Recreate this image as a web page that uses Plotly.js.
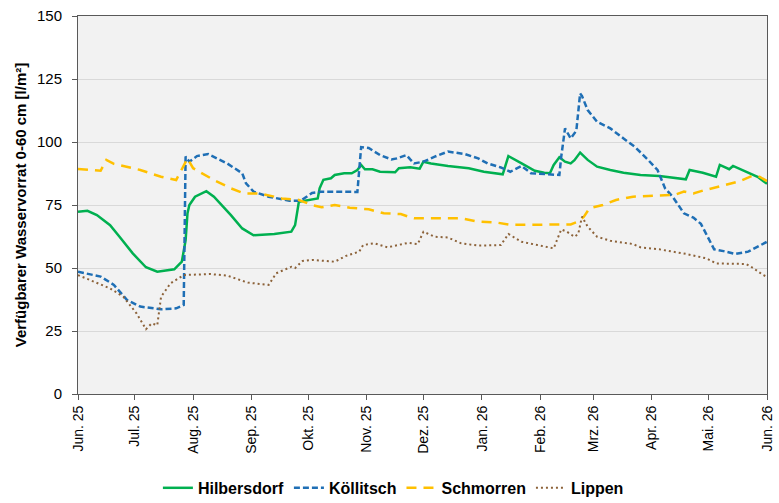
<!DOCTYPE html>
<html>
<head>
<meta charset="utf-8">
<script src="https://cdn.plot.ly/plotly-3.0.1.min.js"></script>
<style>html,body{margin:0;padding:0;background:#fff;}#chart{width:779px;height:503px;}</style>
</head>
<body>
<div id="chart"></div>
<script>
const monthTicks = ['2025-06-01','2025-07-01','2025-08-01','2025-09-01','2025-10-01','2025-11-01','2025-12-01','2026-01-01','2026-02-01','2026-03-01','2026-04-01','2026-05-01','2026-06-01'];
const monthLabels = ['Jun. 25','Jul. 25','Aug. 25','Sep. 25','Okt. 25','Nov. 25','Dez. 25','Jan. 26','Feb. 26','Mrz. 26','Apr. 26','Mai. 26','Jun. 26'];

const hilbersdorfDates = ['2025-06-01','2025-06-06','2025-06-11','2025-06-18','2025-06-23','2025-06-30','2025-07-07','2025-07-13','2025-07-22','2025-07-26','2025-07-28','2025-07-29','2025-07-30','2025-08-02','2025-08-08','2025-08-12','2025-08-21','2025-08-27','2025-09-02','2025-09-13','2025-09-22','2025-09-24','2025-09-26','2025-10-02','2025-10-06','2025-10-07','2025-10-09','2025-10-13','2025-10-15','2025-10-20','2025-10-24','2025-10-27','2025-10-29','2025-10-31','2025-11-04','2025-11-08','2025-11-14','2025-11-16','2025-11-18','2025-11-24','2025-11-29','2025-12-01','2025-12-05','2025-12-14','2025-12-25','2026-01-02','2026-01-12','2026-01-15','2026-01-22','2026-01-29','2026-02-03','2026-02-06','2026-02-08','2026-02-11','2026-02-14','2026-02-17','2026-02-19','2026-02-22','2026-02-26','2026-03-03','2026-03-10','2026-03-17','2026-03-26','2026-04-05','2026-04-19','2026-04-21','2026-04-28','2026-05-05','2026-05-07','2026-05-12','2026-05-14','2026-05-21','2026-05-27','2026-06-01'];
const hilbersdorf = [72.3,72.7,71,67,62.4,55.8,50.3,48.5,49.5,52.5,61,71.7,75,78.3,80.5,78.3,71,65.7,63,63.5,64.4,67,76.3,77,77.6,81.6,85,85.6,86.9,87.6,87.6,88.9,90.9,89.2,89.2,88.2,88.2,88,89.6,90,89.4,92.2,91.5,90.5,89.6,88.2,87.2,94.4,91.5,88.6,87.8,87.6,90.9,93.9,92.2,91.5,92.8,95.8,92.9,90.2,88.9,87.8,86.9,86.5,85.2,88.9,87.8,86.2,90.9,89.2,90.5,88.2,86.2,83.4];

const koellitschDates = ['2025-06-01','2025-06-13','2025-06-20','2025-06-27','2025-07-04','2025-07-15','2025-07-23','2025-07-27','2025-07-28','2025-07-30','2025-08-03','2025-08-09','2025-08-19','2025-08-27','2025-08-29','2025-09-02','2025-09-10','2025-09-21','2025-09-27','2025-10-03','2025-10-08','2025-10-27','2025-10-29','2025-11-02','2025-11-08','2025-11-14','2025-11-17','2025-11-22','2025-11-24','2025-11-26','2025-12-01','2025-12-07','2025-12-14','2025-12-23','2025-12-30','2026-01-04','2026-01-11','2026-01-16','2026-01-22','2026-01-27','2026-02-11','2026-02-12','2026-02-14','2026-02-17','2026-02-20','2026-02-22','2026-02-23','2026-02-26','2026-03-03','2026-03-10','2026-03-17','2026-03-23','2026-03-30','2026-04-04','2026-04-08','2026-04-12','2026-04-18','2026-04-23','2026-04-27','2026-04-30','2026-05-04','2026-05-09','2026-05-15','2026-05-22','2026-05-27','2026-06-01'];
const koellitsch = [48.5,46.6,43.3,37.3,34.7,33.6,34,35.3,94.2,92.2,94.4,95.2,91.5,87.6,83.6,80.3,78.3,76.7,76.7,79.8,80.3,80.2,98,97.6,94.8,93.1,93.5,94.8,93.1,91.5,92.2,94.2,96.2,95.2,93.5,91.5,89.9,88.2,90.5,87.6,86.9,94.2,105.4,101.4,104.5,119.3,118.2,112.7,108,105.4,101.4,98.1,92.9,88.9,81.6,78.3,71.7,70,67.5,63.1,57.4,56.7,55.6,56.5,58.5,60.4];

const schmorrenDates = ['2025-06-01','2025-06-13','2025-06-16','2025-06-20','2025-07-04','2025-07-15','2025-07-23','2025-07-29','2025-08-01','2025-08-12','2025-08-21','2025-08-28','2025-09-06','2025-09-17','2025-09-26','2025-10-03','2025-10-08','2025-10-15','2025-10-23','2025-11-02','2025-11-10','2025-11-19','2025-11-24','2025-11-26','2025-12-07','2025-12-21','2025-12-30','2026-01-09','2026-01-16','2026-02-17','2026-02-21','2026-02-24','2026-02-27','2026-03-06','2026-03-13','2026-03-22','2026-03-30','2026-04-13','2026-04-18','2026-04-23','2026-04-28','2026-05-07','2026-05-17','2026-05-24','2026-05-28','2026-06-01'];
const schmorren = [89.3,88.6,92.9,91.3,88.9,86.2,84.9,93.5,89.6,84.9,81.6,79.6,79.5,77.6,77,75,74.1,75,73.9,73.3,71.7,71.4,70.1,69.7,69.7,69.7,68.4,68,67.1,67.3,68.4,70.4,73.7,75,77,78.3,78.6,79,80.3,79.6,80.7,82.3,84.3,86.5,86.2,84.5];

const lippenDates = ['2025-06-01','2025-06-09','2025-06-18','2025-06-25','2025-07-02','2025-07-07','2025-07-10','2025-07-13','2025-07-15','2025-07-20','2025-07-27','2025-08-10','2025-08-19','2025-08-30','2025-09-10','2025-09-14','2025-09-22','2025-09-24','2025-09-28','2025-10-03','2025-10-15','2025-10-21','2025-10-28','2025-10-30','2025-11-05','2025-11-12','2025-11-17','2025-11-23','2025-11-28','2025-12-01','2025-12-07','2025-12-14','2025-12-21','2025-12-30','2026-01-11','2026-01-15','2026-01-22','2026-01-31','2026-02-08','2026-02-12','2026-02-15','2026-02-19','2026-02-21','2026-02-23','2026-02-26','2026-03-03','2026-03-10','2026-03-22','2026-03-26','2026-04-05','2026-04-19','2026-04-30','2026-05-05','2026-05-21','2026-05-24','2026-05-30','2026-06-01'];
const lippen = [47.2,44.6,41.9,38.6,32,25.7,28,27.3,38.6,43.9,47.2,47.6,47,44.2,43.3,47.9,50.5,50,52.8,53.2,52.5,54.8,56.5,59.1,59.8,58.2,59.1,60,59.5,64.4,62.4,62.1,59.8,58.9,59.1,63.5,60.4,59.1,57.8,65.3,64.4,62.4,63.5,70.4,66.4,62.4,60.8,59.5,58.2,57.4,55.6,53.8,51.8,51.6,50.3,47.2,46.5];

const FONT = '"Liberation Sans", Arial, sans-serif';

const traces = [
  {name:'Hilbersdorf', x:hilbersdorfDates, y:hilbersdorf, type:'scatter', mode:'lines',
   line:{color:'#00B050', width:2.5}},
  {name:'Köllitsch', x:koellitschDates, y:koellitsch, type:'scatter', mode:'lines',
   line:{color:'#1F6FB5', width:2.5, dash:'6px,3px'}},
  {name:'Schmorren', x:schmorrenDates, y:schmorren, type:'scatter', mode:'lines',
   line:{color:'#FFC000', width:2.5, dash:'10px,7px'}},
  {name:'Lippen', x:lippenDates, y:lippen, type:'scatter', mode:'lines',
   line:{color:'#8C6239', width:2, dash:'2px,3px'}}
];

const layout = {
  width:779, height:503,
  margin:{l:78, r:12, t:16, b:109},
  paper_bgcolor:'#ffffff',
  plot_bgcolor:'#f2f2f2',
  font:{family:FONT, size:14, color:'#000'},
  showlegend:true,
  legend:{orientation:'h', xref:'container', yref:'container', x:0.505, xanchor:'center', y:0.03, yanchor:'middle',
          font:{family:FONT, size:16, color:'#000', weight:'bold'}, tracegroupgap:0, itemwidth:30},
  xaxis:{type:'date', range:['2025-06-01','2026-06-01'], tickvals:monthTicks, ticktext:monthLabels,
         tickangle:-90, ticks:'outside', ticklen:5, tickcolor:'#595959',
         showgrid:false, showline:true, linecolor:'#595959', linewidth:1, mirror:true,
         tickfont:{family:FONT, size:14, color:'#000'}, zeroline:false},
  yaxis:{range:[0,150], dtick:25, tick0:0, ticks:'outside', ticklen:5, tickcolor:'#595959',
         ticklabelstandoff:7,
         showgrid:true, gridcolor:'#d9d9d9', gridwidth:1,
         showline:true, linecolor:'#595959', linewidth:1, mirror:true, zeroline:false,
         tickfont:{family:FONT, size:15, color:'#000'},
         title:{text:'Verfügbarer Wasservorrat 0-60 cm [l/m²]', font:{family:FONT, size:15, color:'#000', weight:'bold'}, standoff:6}}
};

Plotly.newPlot('chart', traces, layout, {displayModeBar:false, staticPlot:true});
</script>
</body>
</html>
